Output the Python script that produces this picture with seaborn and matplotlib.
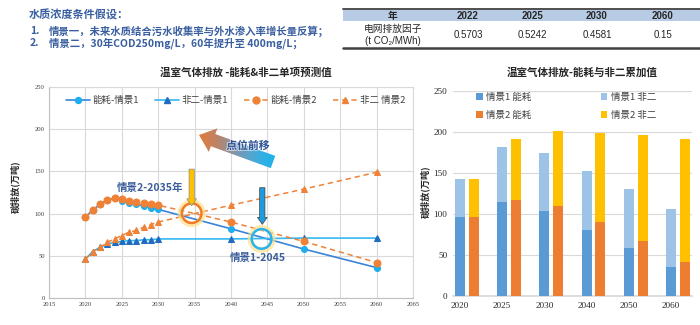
import numpy as np
import pandas as pd
import matplotlib
matplotlib.use('Agg')
import matplotlib.pyplot as plt
import seaborn as sns
from matplotlib.patches import Polygon, Rectangle, Patch
from matplotlib.lines import Line2D
from matplotlib.colors import LinearSegmentedColormap
import matplotlib.patheffects as pe

# ---------------- data ----------------
line_years = [2020, 2021, 2022, 2023, 2024, 2025, 2026, 2027, 2028, 2029, 2030, 2040, 2050, 2060]
energy_s1 = [96, 104, 111, 116, 118, 115, 113, 111, 109, 107, 105, 82, 58, 36]
non2_s1 = [46, 55, 60, 64, 66, 67, 68, 68, 69, 69, 70, 70, 71, 71]
energy_s2 = [96, 104, 111, 116, 118, 117, 115, 114, 113, 111, 110, 90, 67, 42]
non2_s2 = [46, 55, 60, 66, 70, 74, 78, 80, 84, 87, 90, 110, 129, 149]
line_labels = ['能耗-情景1', '非二-情景1', '能耗-情景2', '非二 情景2']

bar_years = ['2020', '2025', '2030', '2040', '2050', '2060']
bar_energy_s1 = [96, 115, 104, 81, 59, 35]
bar_non2_s1 = [47, 67, 70, 71, 71, 71]
bar_energy_s2 = [96, 117, 110, 90, 67, 42]
bar_non2_s2 = [47, 75, 91, 109, 129, 149]
bar_labels = ['情景1 能耗', '情景1 非二', '情景2 能耗', '情景2 非二']

table_years = ['2022', '2025', '2030', '2060']
grid_factor = ['0.5703', '0.5242', '0.4581', '0.15']

# ---------------- style ----------------
sns.set_theme(style='white')
CJK = ['Noto Sans CJK SC', 'DejaVu Sans']
plt.rcParams['font.family'] = CJK
plt.rcParams['axes.unicode_minus'] = False
SERIF = ['Liberation Serif', 'DejaVu Serif']

C_BLUE_LINE = '#3A84D6'
C_BLUE_MK = '#1DAEEF'
C_CYAN_LINE = '#35B8F0'
C_BLUE_TRI = '#1F6CC0'
C_ORANGE = '#EF8236'
C_TXT = '#3B5E9C'

fig = plt.figure(figsize=(7, 3.25), dpi=100)
fig.patch.set_facecolor('white')

# ---------------- left line chart ----------------
ax1 = fig.add_axes([49 / 700, 27 / 325, 364 / 700, 211 / 325])
ax1.set_facecolor('white')
dash = (0, (3.5, 2.5))
sns.lineplot(x=line_years, y=energy_s1, ax=ax1, color=C_BLUE_LINE, lw=1.2,
             marker='o', markersize=4.3, markerfacecolor=C_BLUE_MK, markeredgecolor=C_BLUE_MK, zorder=4)
sns.lineplot(x=line_years, y=non2_s1, ax=ax1, color=C_CYAN_LINE, lw=1.2,
             marker='^', markersize=4.3, markerfacecolor=C_BLUE_TRI, markeredgecolor=C_BLUE_TRI, zorder=4)
sns.lineplot(x=line_years, y=energy_s2, ax=ax1, color=C_ORANGE, lw=1.1, linestyle=dash,
             marker='o', markersize=5.0, markerfacecolor=C_ORANGE, markeredgecolor=C_ORANGE, zorder=5)
sns.lineplot(x=line_years, y=non2_s2, ax=ax1, color=C_ORANGE, lw=1.1, linestyle=dash,
             marker='^', markersize=4.5, markerfacecolor=C_ORANGE, markeredgecolor=C_ORANGE, zorder=5)

ax1.set_xlim(2015, 2065)
ax1.set_ylim(0, 250)
ax1.set_xticks(range(2015, 2066, 5))
ax1.set_yticks(range(0, 251, 50))
ax1.grid(True, color='#D9D9D9', lw=0.8)
for s in ax1.spines.values():
    s.set_color('#D9D9D9')
    s.set_linewidth(0.8)
ax1.spines['bottom'].set_color('#BFBFBF')
ax1.spines['left'].set_color('#BFBFBF')
ax1.tick_params(length=0, pad=3, labelsize=4.8, colors='#404040')
for lb in ax1.get_xticklabels() + ax1.get_yticklabels():
    lb.set_family(SERIF)
ax1.set_xlabel('')
ax1.set_ylabel('')

h1 = [
    Line2D([], [], color=C_BLUE_LINE, lw=1.2, marker='o', markersize=4.3, mfc=C_BLUE_MK, mec=C_BLUE_MK),
    Line2D([], [], color=C_CYAN_LINE, lw=1.2, marker='^', markersize=4.3, mfc=C_BLUE_TRI, mec=C_BLUE_TRI),
    Line2D([], [], color=C_ORANGE, lw=1.1, linestyle=dash, marker='o', markersize=5, mfc=C_ORANGE, mec=C_ORANGE),
    Line2D([], [], color=C_ORANGE, lw=1.1, linestyle=dash, marker='^', markersize=4.5, mfc=C_ORANGE, mec=C_ORANGE),
]
leg1 = ax1.legend(h1, line_labels, ncol=4, loc='center left', bbox_to_anchor=(0.035, 0.935),
                  frameon=False, fontsize=6.8, handlelength=2.6, columnspacing=1.6, handletextpad=0.3,
                  borderaxespad=0)
for t in leg1.get_texts():
    t.set_color('#404040')

# annotations on left chart
ax1.scatter([2034.6], [100.5], s=260, facecolor='none', edgecolor='#FFE08A', lw=4, alpha=0.7, zorder=6)
ax1.scatter([2034.6], [100.5], s=200, facecolor='none', edgecolor='#F07C2A', lw=1.8, zorder=7)
ax1.scatter([2044.2], [70], s=260, facecolor='none', edgecolor='#FFE08A', lw=4, alpha=0.7, zorder=6)
ax1.scatter([2044.2], [70], s=200, facecolor='none', edgecolor='#29B3EE', lw=1.8, zorder=7)

ax1.annotate('', xy=(2034.6, 106), xytext=(2034.6, 156),
             arrowprops=dict(arrowstyle='simple,head_width=7,head_length=5,tail_width=3.8',
                             mutation_scale=1, fc='#FFC000', ec='#8C8C8C', lw=0.5), zorder=8)
ax1.annotate('', xy=(2044.3, 84), xytext=(2044.3, 134),
             arrowprops=dict(arrowstyle='simple,head_width=7,head_length=5,tail_width=3.8',
                             mutation_scale=1, fc='#1E9BE0', ec='#404040', lw=0.5), zorder=8)

ax1.text(2028.9, 131, '情景2-2035年', ha='center', va='center', fontsize=7.6,
         weight='bold', color=C_TXT, zorder=9)
ax1.text(2043.7, 47, '情景1-2045', ha='center', va='center', fontsize=7.6,
         weight='bold', color=C_TXT, zorder=9)

# ---------------- right stacked bar chart ----------------
ax2 = fig.add_axes([453 / 700, 29 / 325, 239 / 700, 205 / 325])
ax2.set_facecolor('white')
scen = ['情景1'] * len(bar_years) + ['情景2'] * len(bar_years)
df_tot = pd.DataFrame({
    'year': bar_years * 2,
    'scenario': scen,
    'value': [e + n for e, n in zip(bar_energy_s1, bar_non2_s1)] +
             [e + n for e, n in zip(bar_energy_s2, bar_non2_s2)],
})
df_en = pd.DataFrame({
    'year': bar_years * 2,
    'scenario': scen,
    'value': bar_energy_s1 + bar_energy_s2,
})
sns.barplot(data=df_tot, x='year', y='value', hue='scenario', palette=['#9DC3E6', '#FFC000'],
            width=0.66, gap=0.28, saturation=1, errorbar=None, legend=False, ax=ax2, zorder=3,
            linewidth=0, edgecolor='none')
sns.barplot(data=df_en, x='year', y='value', hue='scenario', palette=['#5B9BD5', '#ED7D31'],
            width=0.66, gap=0.28, saturation=1, errorbar=None, legend=False, ax=ax2, zorder=4,
            linewidth=0, edgecolor='none')
ax2.set_ylim(0, 250)
ax2.set_yticks(range(0, 251, 50))
ax2.set_xticks(np.arange(len(bar_years)) - 0.165, bar_years)
ax2.set_xlim(-0.33, len(bar_years) - 1 + 0.335)
ax2.grid(True, axis='y', color='#D9D9D9', lw=0.8, zorder=0)
ax2.set_axisbelow(True)
for k in ['left', 'right', 'top']:
    ax2.spines[k].set_visible(False)
ax2.spines['bottom'].set_color('#D9D9D9')
ax2.tick_params(length=0, pad=4, labelsize=6.6, colors='#262626')
for lb in ax2.get_xticklabels() + ax2.get_yticklabels():
    lb.set_family(SERIF)
ax2.set_xlabel('')
ax2.set_ylabel('')

bar_cols = ['#5B9BD5', '#9DC3E6', '#ED7D31', '#FFC000']
h2 = [Patch(fc=c, ec='none') for c in bar_cols]
order = [0, 2, 1, 3]
leg2 = ax2.legend([h2[i] for i in order], [bar_labels[i] for i in order], ncol=2,
                  loc='upper left', bbox_to_anchor=(0.08, 1.01), frameon=False, fontsize=6.8,
                  handlelength=0.7, handleheight=0.7, handletextpad=0.4, columnspacing=7.3,
                  labelspacing=0.95, borderaxespad=0)
for t in leg2.get_texts():
    t.set_color('#404040')

# ---------------- overlay (pixel coords) ----------------
ov = fig.add_axes([0, 0, 1, 1], zorder=10)
ov.patch.set_alpha(0)
ov.axis('off')

# gradient arrow "点位前移"
tip = np.array([199.0, 135.0])
tail = np.array([273.0, 162.0])
u = (tip - tail) / np.linalg.norm(tip - tail)
n = np.array([-u[1], u[0]])
hl, bw, hw = 15.0, 6.5, 12.5
neck = tip - u * hl
verts = [tail + n * bw, neck + n * bw, neck + n * hw, tip, neck - n * hw, neck - n * bw, tail - n * bw]
poly = Polygon(verts, closed=True, fc='none', ec='none', transform=ov.transData)
ov.add_patch(poly)
cmap = LinearSegmentedColormap.from_list('g', ['#EC7A2A', '#C48260', '#7C97B0', '#3AAEE0', '#12B5F0'])
grad = np.linspace(0, 1, 256).reshape(1, -1)
im = ov.imshow(grad, extent=[192, 282, 178, 118], cmap=cmap, aspect='auto', zorder=3)
im.set_clip_path(poly)
ov.text(248, 146, '点位前移', ha='center', va='center', fontsize=7.8, weight='bold',
        color='#2F5597', zorder=5,
        path_effects=[pe.withStroke(linewidth=1.5, foreground='white', alpha=0.6)])

# titles and axis labels
ov.text(246, 73, '温室气体排放 -能耗&非二单项预测值', ha='center', va='center', fontsize=7.6,
        weight='bold', color='#262626')
ov.text(582, 73, '温室气体排放-能耗与非二累加值', ha='center', va='center', fontsize=7.6,
        weight='bold', color='#262626')
ov.text(15, 187, '碳排放(万吨)', rotation=90, ha='center', va='center', fontsize=6.6,
        weight='bold', color='#262626')
ov.text(425, 192, '碳排放(万吨)', rotation=90, ha='center', va='center', fontsize=6.6,
        weight='bold', color='#262626')

# assumptions text
ov.text(29, 15, '水质浓度条件假设：', ha='left', va='center', fontsize=8, weight='bold', color='#3A5FA0')
ov.text(30, 31.5, '1.', ha='left', va='center', fontsize=7.5, weight='bold', color='#3A5FA0')
ov.text(49, 31.5, '情景一，未来水质结合污水收集率与外水渗入率增长量反算；', ha='left', va='center',
        fontsize=7.5, weight='bold', color='#3A5FA0')
ov.text(30, 43.5, '2.', ha='left', va='center', fontsize=7.5, weight='bold', color='#3A5FA0')
ov.text(49, 43.5, '情景二，30年COD250mg/L，60年提升至 400mg/L；', ha='left', va='center',
        fontsize=7.5, weight='bold', color='#3A5FA0')

# table
ov.add_patch(Rectangle((343, 9.5), 357, 11.5, fc='#B7CBE4', ec='none', zorder=1))
ov.plot([343, 700], [9, 9], color='#404040', lw=1.3, zorder=2)
ov.plot([343, 700], [48.3, 48.3], color='#404040', lw=1.8, zorder=2)
col_x = [468, 532, 597, 663]
ov.text(393, 16, '年', ha='center', va='center', fontsize=7, weight='bold', color='#262626', zorder=3)
for x, yr, v in zip(col_x, table_years, grid_factor):
    ov.text(x, 16, yr, ha='center', va='center', fontsize=7, weight='bold', color='#262626',
            family=['Liberation Sans', 'DejaVu Sans'], zorder=3)
    ov.text(x, 35, v, ha='center', va='center', fontsize=7, color='#262626',
            family=['Liberation Sans', 'DejaVu Sans'], zorder=3)
ov.text(393, 29, '电网排放因子', ha='center', va='center', fontsize=7, color='#262626', zorder=3)
ov.text(393, 41.5, '(t CO₂/MWh)', ha='center', va='center', fontsize=7, color='#262626',
        family=['Liberation Sans', 'DejaVu Sans'], zorder=3)

ov.set_xlim(0, 700)
ov.set_ylim(325, 0)

fig.savefig('out.png', dpi=100, facecolor='white')
